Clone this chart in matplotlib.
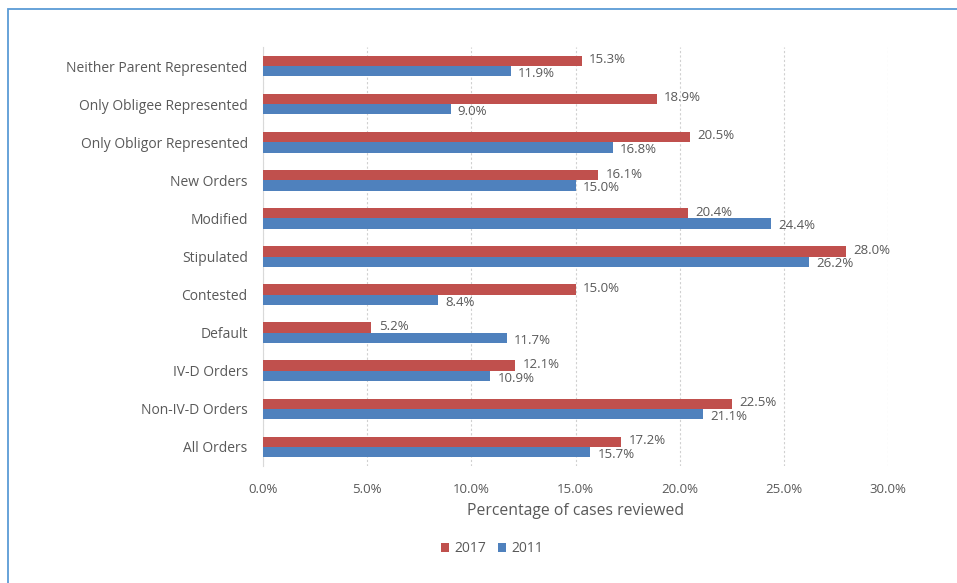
import matplotlib
matplotlib.use("Agg")
import matplotlib.pyplot as plt
from matplotlib.patches import Rectangle
import numpy as np

categories = ["Neither Parent Represented", "Only Obligee Represented", "Only Obligor Represented",
              "New Orders", "Modified", "Stipulated", "Contested", "Default", "IV-D Orders",
              "Non-IV-D Orders", "All Orders"]
vals_2017 = [15.3, 18.9, 20.5, 16.1, 20.4, 28.0, 15.0, 5.2, 12.1, 22.5, 17.2]
vals_2011 = [11.9, 9.0, 16.8, 15.0, 24.4, 26.2, 8.4, 11.7, 10.9, 21.1, 15.7]
xticks = [0, 5, 10, 15, 20, 25, 30]

RED = "#C0504D"
BLUE = "#4F81BD"
TXT = "#595959"

plt.rcParams['font.family'] = ['Open Sans', 'DejaVu Sans']

W, H = 957, 583
fig = plt.figure(figsize=(W/100, H/100), dpi=100)
ax = fig.add_axes([263/W, 1 - 466/H, (888-263)/W, (466-47)/H])

n = len(categories)
y = np.arange(n)[::-1].astype(float)
h = 0.27
ax.barh(y + h/2, vals_2017, height=h, color=RED, label="2017", zorder=3)
ax.barh(y - h/2, vals_2011, height=h, color=BLUE, label="2011", zorder=3)

for yi, v in zip(y, vals_2017):
    ax.text(v + 0.35, yi + h/2 + 0.03, f"{v:.1f}%", va="center", ha="left", fontsize=9.5, color=TXT, zorder=4)
for yi, v in zip(y, vals_2011):
    ax.text(v + 0.35, yi - h/2 - 0.06, f"{v:.1f}%", va="center", ha="left", fontsize=9.5, color=TXT, zorder=4)

ax.set_xlim(0, 30)
ax.set_ylim(-0.5, n - 0.5)
ax.set_xticks(xticks)
ax.set_xticklabels([f"{t:.1f}%" for t in xticks], fontsize=9.5, color=TXT)
ax.set_yticks(y)
ax.set_yticklabels(categories, fontsize=10, color=TXT)
ax.tick_params(axis="y", length=0, pad=11)
ax.tick_params(axis="x", length=0, pad=12)
ax.xaxis.grid(True, linestyle=(0, (2, 2)), color="#D0D0D0", linewidth=0.8, zorder=0)
for s in ["top", "right", "bottom"]:
    ax.spines[s].set_visible(False)
ax.spines["left"].set_color("#D9D9D9")
ax.spines["left"].set_linewidth(0.8)

ax.set_xlabel("Percentage of cases reviewed", fontsize=11.3, color=TXT, labelpad=5)

handles, labels = ax.get_legend_handles_labels()
fig.legend(handles, labels, loc="center", bbox_to_anchor=(492/W, 1 - 549/H), ncol=2, frameon=False,
           fontsize=10, labelcolor=TXT, handlelength=0.6, handleheight=0.6, handletextpad=0.4,
           columnspacing=0.8)

fig.patches.append(Rectangle((8/W, -0.1), 1.2, 1 - 9/H + 0.1, transform=fig.transFigure,
                             fill=False, edgecolor="#5B9BD5", linewidth=1.3))

fig.savefig("out.png", dpi=100, facecolor="white")
